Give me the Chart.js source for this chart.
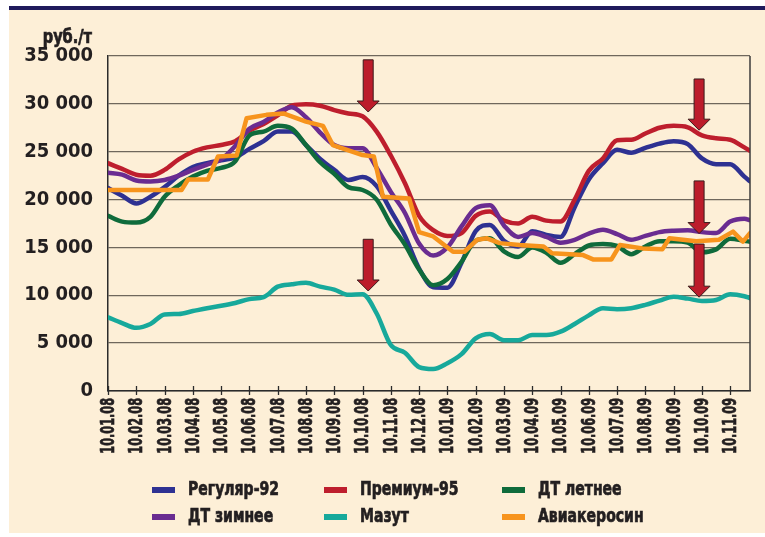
<!DOCTYPE html>
<html>
<head>
<meta charset="utf-8">
<title>Цены на нефтепродукты</title>
<style>
body { margin: 0; background: #fff; }
#wrap { width: 765px; height: 537px; }
</style>
</head>
<body>
<div id="wrap"><canvas id="myChart" width="765" height="537"></canvas></div>
<script src="https://cdn.jsdelivr.net/npm/chart.js@4.4.0/dist/chart.umd.min.js"></script>
<script>
// tick labels, one per month
var months = ['10.01.08','10.02.08','10.03.08','10.04.08','10.05.08','10.06.08','10.07.08','10.08.08',
  '10.09.08','10.10.08','10.11.08','10.12.08','10.01.09','10.02.09','10.03.09','10.04.09','10.05.09',
  '10.06.09','10.07.09','10.08.09','10.09.09','10.10.09','10.11.09'];

// sample positions in months after 10.01.08 (half-month steps)
var steps = [0,0.5,1,1.5,2,2.5,3,3.5,4,4.5,5,5.5,6,6.5,7,7.5,8,8.5,9,9.5,10,10.5,11,11.5,12,12.5,
  13,13.5,14,14.5,15,15.5,16,16.5,17,17.5,18,18.5,19,19.5,20,20.5,21,21.5,22,22.5,22.7];

var regular92 = [21200,20400,19600,20300,21300,22500,23400,23800,24100,24400,25300,26100,27100,27100,25700,
  24250,23100,22050,22350,21400,18850,16200,12800,10850,10800,13400,16700,17350,15700,15100,16700,16300,
  16100,19200,22100,23800,25200,24900,25400,25850,26100,25800,24300,23700,23700,22400,21900];
var premium95 = [23800,23200,22600,22500,23100,24200,25000,25450,25700,26100,27200,27900,28800,29800,29950,
  29800,29350,29000,28700,27100,24600,21700,18300,16800,16200,16500,18300,18750,17800,17500,18200,17800,
  17700,20000,23000,24300,26200,26250,26900,27500,27700,27550,26700,26400,26250,25450,25100];
var dtSummer = [18300,17700,17600,18200,20300,21500,22400,23000,23300,24000,26700,27100,27700,27400,25700,
  23900,22700,21300,21000,20000,17400,15300,12700,11050,11700,13500,15700,15950,14600,14000,15000,14450,
  13400,14300,15200,15350,15150,14300,15100,15650,15650,15500,14500,14800,15900,15700,15600];
var dtWinter = [22800,22600,22000,21900,22050,22500,23100,23650,24200,25600,27400,28100,29100,29650,28600,
  27000,25700,25350,25350,23300,20800,18600,15400,14150,15000,17200,19100,19400,17300,16100,16500,16100,
  15500,15800,16450,16850,16400,15800,16200,16600,16750,16800,16600,16500,17700,18000,17850];
var mazut = [7700,7100,6600,7000,8000,8050,8350,8650,8900,9200,9600,9800,10900,11150,11300,10900,10600,
  10050,10100,8100,4800,4000,2500,2300,2900,3850,5500,5950,5300,5300,5850,5850,6200,7000,7900,8650,8550,
  8650,9000,9450,9850,9650,9400,9500,10100,9900,9700];

// jet fuel changes in steps, so it has its own break points
var keroseneX = [0,2.6,2.83,3.53,3.89,4.55,4.9,5.6,6.2,7.0,7.6,7.95,8.45,9.0,9.4,9.72,10.65,11.0,11.5,12.2,
  12.6,13.05,13.4,13.85,14.55,15.4,15.7,16.8,17.15,17.8,18.1,18.9,19.6,19.85,20.8,21.6,22.1,22.45,22.7];
var keroseneY = [21000,21000,22100,22100,24500,24600,28500,28850,29000,28150,27700,25700,25200,24650,24500,
  20300,20100,16600,16150,14550,14550,15800,15950,15450,15250,15100,14400,14200,13750,13750,15250,14900,
  14800,15950,15650,15800,16650,15600,16500];

var names = ['Регуляр-92', 'Премиум-95', 'ДТ летнее', 'ДТ зимнее', 'Мазут', 'Авиакеросин'];
var colors = ['#2e3192', '#be1e2d', '#0f6b3b', '#6a2c91', '#17a99b', '#f7941d'];

// red arrows (month position, top and tip in rub/t)
var arrowX = [9.2, 9.2, 20.9, 20.9, 20.9];
var arrowTop = [34600, 15850, 32600, 21950, 15350];
var arrowTip = [29150, 10450, 27250, 16450, 9800];

var FONT = "'DejaVu Sans Condensed', 'DejaVu Sans', sans-serif";
var INK = '#231f20';

function pairs(xs, ys) {
  return ys.map(function (v, i) { return {x: xs[i], y: v}; });
}

// the original uses a narrow heavy typeface: squeeze the text and thicken it a little
function narrowText(c, text, x, y, sx, angle) {
  c.save();
  c.translate(x, y);
  if (angle) c.rotate(angle);
  c.scale(sx, 1);
  c.fillText(text, 0, 0);
  c.strokeStyle = c.fillStyle;
  c.lineWidth = 0.7;
  c.strokeText(text, 0, 0);
  c.restore();
}

var values = [regular92, premium95, dtSummer, dtWinter, mazut];
var datasets = values.map(function (v, i) {
  return {label: names[i], data: pairs(steps, v), borderColor: colors[i], backgroundColor: colors[i],
    cubicInterpolationMode: 'monotone', order: 6 - i};
});
datasets.push({label: names[5], data: pairs(keroseneX, keroseneY), borderColor: colors[5],
  backgroundColor: colors[5], tension: 0, order: 0});

var decor = {
  id: 'decor',
  beforeDraw: function (chart) {
    var c = chart.ctx;
    c.save();
    c.fillStyle = '#ffffff';
    c.fillRect(0, 0, chart.width, chart.height);
    c.fillStyle = '#fdefd7';
    c.fillRect(9, 10, 756, 523);
    c.fillStyle = '#1f1a5c';
    c.fillRect(9, 6, 756, 4);
    c.restore();
  },
  afterDatasetsDraw: function (chart) {
    var c = chart.ctx, xs = chart.scales.x, ys = chart.scales.y;
    c.save();
    c.fillStyle = '#bc1c2b';
    c.strokeStyle = '#3a1c1c';
    c.lineWidth = 1;
    for (var i = 0; i < arrowX.length; i++) {
      var cx = xs.getPixelForValue(arrowX[i]);
      var top = ys.getPixelForValue(arrowTop[i]);
      var tip = ys.getPixelForValue(arrowTip[i]);
      var neck = tip - 11;
      c.beginPath();
      c.moveTo(cx - 5, top);
      c.lineTo(cx + 5, top);
      c.lineTo(cx + 5, neck);
      c.lineTo(cx + 11, neck);
      c.lineTo(cx, tip);
      c.lineTo(cx - 11, neck);
      c.lineTo(cx - 5, neck);
      c.closePath();
      c.fill();
      c.stroke();
    }
    c.restore();
  },
  afterDraw: function (chart) {
    var c = chart.ctx, xs = chart.scales.x, a = chart.chartArea;
    c.save();
    // frame on the right
    c.strokeStyle = '#3b3b3b';
    c.lineWidth = 1.5;
    c.beginPath();
    c.moveTo(a.right, a.top);
    c.lineTo(a.right, a.bottom);
    c.stroke();
    // month ticks across the axis
    c.strokeStyle = '#2b2b2b';
    c.lineWidth = 1.3;
    xs.ticks.forEach(function (t) {
      var px = Math.round(xs.getPixelForValue(t.value)) + 0.5;
      c.beginPath();
      c.moveTo(px, a.bottom - 5);
      c.lineTo(px, a.bottom + 4);
      c.stroke();
    });
    // month labels, rotated, read bottom to top
    c.fillStyle = INK;
    c.font = 'bold 19px ' + FONT;
    c.textAlign = 'right';
    c.textBaseline = 'middle';
    xs.ticks.forEach(function (t) {
      narrowText(c, months[t.value], xs.getPixelForValue(t.value) + 1, a.bottom + 7, 0.66, -Math.PI / 2);
    });
    // unit label
    c.font = 'bold 19px ' + FONT;
    c.textAlign = 'right';
    c.textBaseline = 'alphabetic';
    narrowText(c, 'руб./т', 92, 43, 0.85);
    // legend, three columns
    var colX = [152, 324, 502], rowY = [490, 517];
    c.font = 'bold 20px ' + FONT;
    c.textAlign = 'left';
    c.textBaseline = 'middle';
    for (var k = 0; k < names.length; k++) {
      var lx = colX[k % 3], ly = rowY[Math.floor(k / 3)];
      c.fillStyle = colors[k];
      c.fillRect(lx, ly - 3, 23, 6);
      c.fillStyle = INK;
      narrowText(c, names[k], lx + 36, ly, 0.78);
    }
    c.restore();
  }
};

var chart = new Chart(document.getElementById('myChart').getContext('2d'), {
  type: 'line',
  data: {datasets: datasets},
  options: {
    responsive: false,
    animation: false,
    devicePixelRatio: 1,
    layout: {padding: {left: 0, top: 56, right: 15, bottom: 0}},
    plugins: {legend: {display: false}, tooltip: {enabled: false}},
    elements: {
      point: {radius: 0},
      line: {borderWidth: 4.5, borderCapStyle: 'round', borderJoinStyle: 'round'}
    },
    scales: {
      x: {
        type: 'linear', min: 0, max: 22.7,
        grid: {display: false},
        border: {display: true, color: '#2b2b2b', width: 1.5},
        ticks: {
          display: false, stepSize: 1, includeBounds: false, autoSkip: false,
          callback: function (v) { return months[v]; }
        },
        afterFit: function (s) { s.height = 146; }
      },
      y: {
        min: 0, max: 35000,
        grid: {color: '#6f675c', lineWidth: 1.3, drawTicks: false},
        border: {color: '#2b2b2b', width: 1.5},
        ticks: {
          stepSize: 5000, padding: 15, color: INK, font: {family: FONT, size: 20, weight: 'bold'},
          callback: function (v) { return v === 0 ? '0' : (v / 1000) + ' 000'; }
        },
        afterFit: function (s) { s.width = 108; }
      }
    }
  },
  plugins: [decor]
});
</script>
</body>
</html>
